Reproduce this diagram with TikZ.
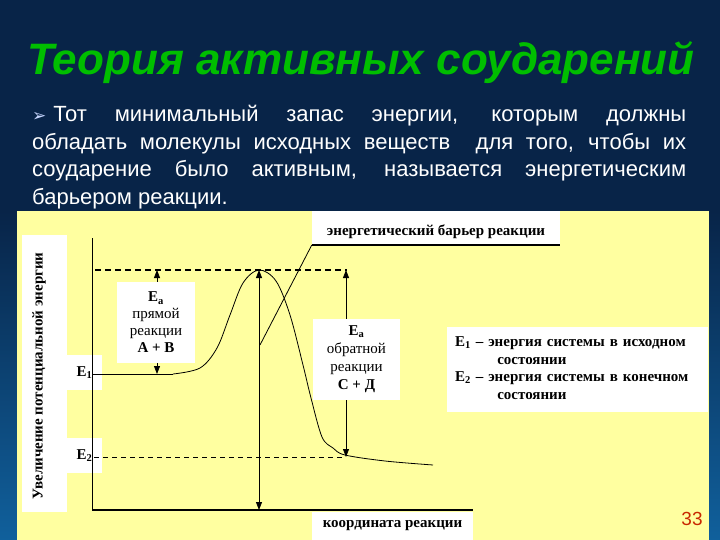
\documentclass[tikz,border=0pt]{standalone}
\usepackage{fontspec}
\setmainfont{Liberation Serif}
\newfontfamily\arialfont{Liberation Sans}
\newfontfamily\symbfont{DejaVu Sans}
\usepackage{tikz}
\usetikzlibrary{arrows.meta, positioning}
\usepackage{xcolor}
\definecolor{slidenavy}{RGB}{8, 36, 72}
\definecolor{slideblue}{RGB}{16, 96, 156}
\definecolor{titlegreen}{RGB}{0, 190, 0}
\definecolor{paneyellow}{RGB}{255, 255, 160}
\definecolor{pagered}{RGB}{200, 40, 0}
\definecolor{bulletblue}{RGB}{200, 215, 255}

\tikzset{
  whitebox/.style={fill=white, inner sep=0pt},
  lbl/.style={font=\fontsize{15}{17}\selectfont\bfseries},
  dimline/.style={{Triangle[width=6pt,length=8pt]}-{Triangle[width=6pt,length=8pt]}, line width=0.8pt},
  levelline/.style={line width=0.8pt},
}

\begin{document}
\begin{tikzpicture}[x=1pt, y=-1pt]
        % ---- SLIDE ----
        \fill[slidenavy] (0,0) rectangle (720,540);
        \shade[top color=slidenavy, bottom color=slideblue] (0,211) rectangle (17,540);
        \shade[top color=slidenavy, bottom color=slideblue] (709,211) rectangle (720,540);
        \fill[paneyellow] (17,211) rectangle (709,540);

        \node[font=\arialfont\bfseries\itshape\fontsize{44}{48}\selectfont, text=titlegreen, anchor=base] (title) at (361,75) {Теория активных соударений};

        \node[anchor=north west, text width=654pt, align=justify, inner sep=0pt, text=white,
              font=\arialfont\fontsize{22}{27.7}\selectfont] (intro) at (32,105)
          {{\symbfont\fontsize{17}{17}\selectfont\color{bulletblue}➢}\hspace{7pt}Тот минимальный запас энергии, которым должны\linebreak
           обладать молекулы исходных веществ\ \ для того, чтобы их\linebreak
           соударение было активным, называется энергетическим\linebreak
           барьером реакции.};

        % ---- LABEL BOXES ----
        \node[whitebox, minimum width=45pt, minimum height=277pt] (ybox) at (44.5,373.5) {};
        \node[lbl, rotate=90] (ylabel) at (39,376) {Увеличение потенциальной энергии};
        \node[whitebox, lbl, minimum width=35pt, minimum height=35pt] (e1lbl) at (84.5,372.5) {E\textsubscript{1}};
        \node[whitebox, lbl, minimum width=35pt, minimum height=35pt] (e2lbl) at (84.5,455.5) {E\textsubscript{2}};
        \node[whitebox, lbl, anchor=south, minimum width=248pt, minimum height=34pt, text height=18pt, text depth=3pt] (barrier) at (436,245) {энергетический барьер реакции};
        \node[whitebox, lbl, minimum width=161pt, minimum height=28pt] (xlabel) at (392.5,526) {координата реакции};

        % ---- AXES ----
        \coordinate (origin) at (92,510);
        \coordinate (ytop) at (92,238);
        \coordinate (xend) at (473,510);
        \draw[levelline] (ytop) -- (origin);
        \draw[line width=1.4pt] (origin) -- (xend);

        % ---- LEVELS ----
        \coordinate (peak) at (259,270);
        \coordinate (e1end) at (173,374);
        \draw[line width=1.4pt, dash pattern=on 6pt off 4pt] (95,270) -- (347,270);
        \draw[levelline, dash pattern=on 5pt off 4pt] (94,457) -- (345,457);
        \draw[levelline] (92,374) -- (e1end);

        % energy curve
        \draw[levelline] plot[smooth, tension=0.55] coordinates {(173,374) (200,368) (217,348) (230,315) (243,283) (259,270)
          (276,281) (290,315) (303,365) (311,398) (322,437) (333,448) (345,455) (385,461) (433,465)};

        % ---- ACTIVATION ARROWS ----
        \draw[dimline] (157,270) -- (157,374);
        \draw[dimline] (peak) -- (peak |- origin);
        \draw[dimline] (346,270) -- (346,457);

        \node[whitebox, minimum width=78pt, minimum height=81pt, align=center, font=\fontsize{15}{17}\selectfont] (fwdbox) at (156,322.5)
          {\textbf{E\textsubscript{a}}\\прямой\\реакции\\\textbf{А + В}};
        \node[whitebox, minimum width=87pt, minimum height=81pt, align=center, font=\fontsize{15}{18}\selectfont] (revbox) at (356.5,359.5)
          {\textbf{E\textsubscript{a}}\\обратной\\реакции\\\textbf{С + Д}};

        % barrier leader
        \coordinate (leaderend) at (260,345);
        \draw[line width=1.4pt] (barrier.south west) -- (barrier.south east);
        \draw[levelline] (barrier.south west) -- (leaderend);

        % ---- LEGEND ----
        \node[whitebox, minimum width=261pt, minimum height=85pt, text width=245pt, align=left, font=\fontsize{15}{17.5}\selectfont\bfseries] (legend) at (577.5,369.5)
          {\begin{tabular}{@{}l@{\hspace{5pt}}l@{}}
             E\textsubscript{1} – & энергия системы в исходном\\
                                  & \hspace{0.6em}состоянии\\
             E\textsubscript{2} – & энергия системы в конечном\\
                                  & \hspace{0.6em}состоянии
           \end{tabular}};

        \node[font=\arialfont\fontsize{19}{19}\selectfont, text=pagered] (pagenum) at (692,519) {33};
\end{tikzpicture}
\end{document}
